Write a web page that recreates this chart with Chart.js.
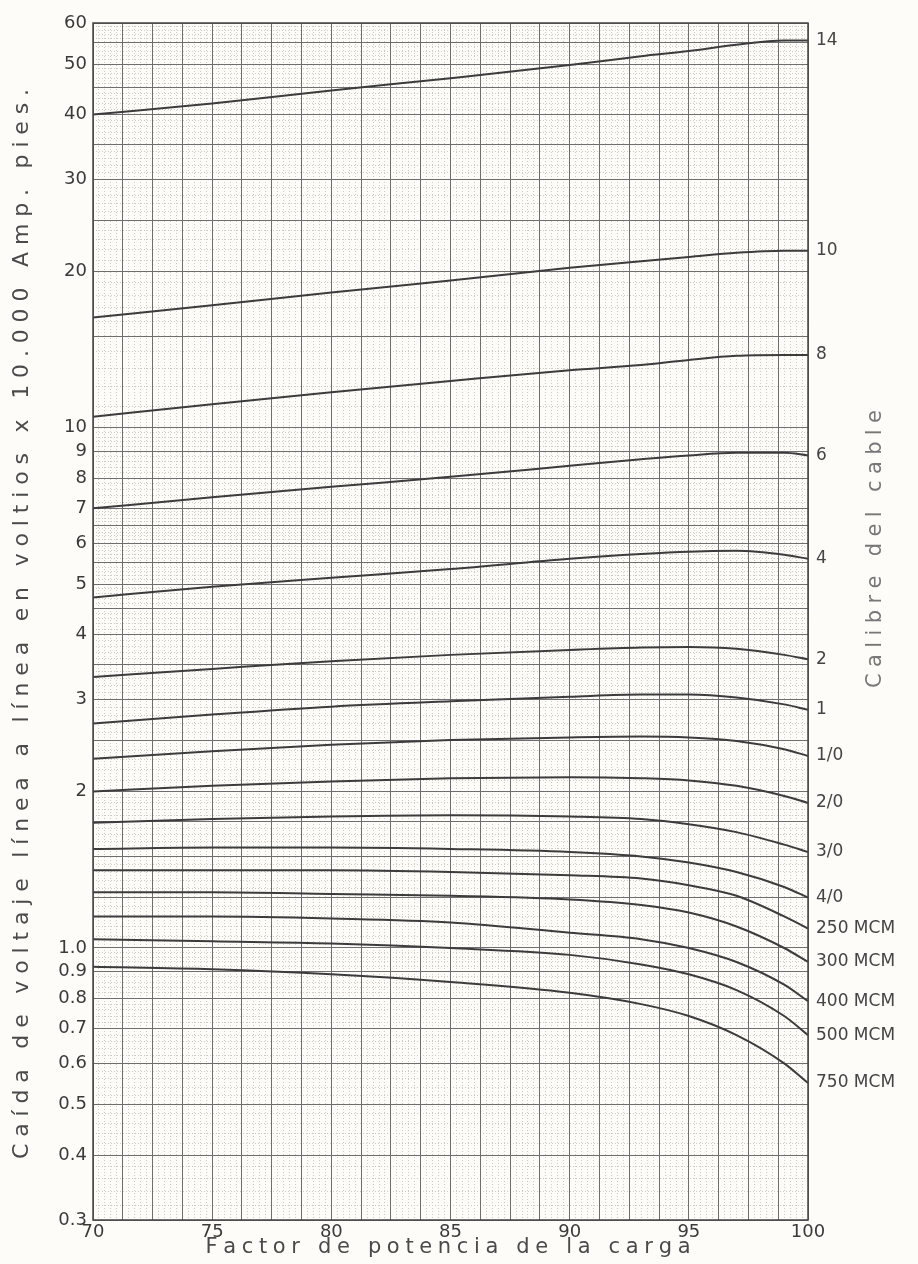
<!DOCTYPE html>
<html>
<head>
<meta charset="utf-8">
<script src="https://cdn.jsdelivr.net/npm/chart.js@4.4.1/dist/chart.umd.min.js"></script>
<style>
  html, body { margin: 0; padding: 0; background: #fdfcf9; }
  #wrap { width: 918px; height: 1264px; position: relative; }
</style>
</head>
<body>
<div id="wrap"><canvas id="chart"></canvas></div>
<script>
const factorPotencia = [70, 75, 80, 85, 90, 93, 95, 97, 99, 100];

// caída de voltaje per cable gauge, same order as factorPotencia
const cal14   = [40, 42, 44.5, 47, 49.8, 51.8, 53, 54.5, 55.5, 55.5];
const cal10   = [16.3, 17.2, 18.2, 19.2, 20.3, 20.9, 21.3, 21.7, 21.9, 21.9];
const cal8    = [10.5, 11.1, 11.7, 12.3, 12.9, 13.2, 13.5, 13.75, 13.8, 13.8];
const cal6    = [7.0, 7.35, 7.7, 8.05, 8.45, 8.7, 8.85, 8.95, 8.95, 8.85];
const cal4    = [4.72, 4.95, 5.15, 5.35, 5.6, 5.72, 5.78, 5.8, 5.7, 5.6];
const cal2    = [3.32, 3.44, 3.56, 3.66, 3.74, 3.78, 3.79, 3.76, 3.66, 3.59];
const cal1    = [2.7, 2.81, 2.91, 2.98, 3.04, 3.07, 3.07, 3.03, 2.94, 2.87];
const cal1_0  = [2.31, 2.39, 2.46, 2.51, 2.54, 2.55, 2.54, 2.5, 2.41, 2.34];
const cal2_0  = [2.0, 2.05, 2.09, 2.12, 2.13, 2.12, 2.1, 2.05, 1.96, 1.9];
const cal3_0  = [1.74, 1.77, 1.79, 1.8, 1.79, 1.77, 1.73, 1.67, 1.58, 1.53];
const cal4_0  = [1.55, 1.56, 1.56, 1.55, 1.53, 1.5, 1.46, 1.4, 1.31, 1.25];
const mcm250  = [1.41, 1.41, 1.41, 1.4, 1.38, 1.36, 1.32, 1.26, 1.15, 1.09];
const mcm300  = [1.28, 1.28, 1.27, 1.26, 1.24, 1.21, 1.17, 1.1, 1.0, 0.94];
const mcm400  = [1.15, 1.15, 1.14, 1.12, 1.07, 1.04, 1.0, 0.94, 0.85, 0.79];
const mcm500  = [1.04, 1.03, 1.02, 1.0, 0.97, 0.93, 0.89, 0.83, 0.74, 0.68];
const mcm750  = [0.92, 0.91, 0.89, 0.86, 0.82, 0.78, 0.74, 0.68, 0.6, 0.55];

const calibres = ['14', '10', '8', '6', '4', '2', '1', '1/0', '2/0', '3/0', '4/0',
                  '250 MCM', '300 MCM', '400 MCM', '500 MCM', '750 MCM'];
const series = [cal14, cal10, cal8, cal6, cal4, cal2, cal1, cal1_0, cal2_0, cal3_0, cal4_0,
                mcm250, mcm300, mcm400, mcm500, mcm750];

// tick labels
const xLabels = [70, 75, 80, 85, 90, 95, 100];
const yLabels = [0.3, 0.4, 0.5, 0.6, 0.7, 0.8, 0.9, 1, 2, 3, 4, 5, 6, 7, 8, 9, 10, 20, 30, 40, 50, 60];
// heavy lines of the graph paper
const yGrid = [0.3, 0.4, 0.5, 0.6, 0.7, 0.8, 0.9, 1, 1.25, 1.5, 1.75, 2, 2.5, 3, 3.5, 4, 4.5, 5, 5.5,
               6, 6.5, 7, 8, 9, 10, 15, 20, 25, 30, 35, 40, 45, 50, 55, 60];
const xStep = 1.25;

// fine dotted lines: split each heavy interval into 5
function minorValues(list) {
    const out = [];
    for (let i = 0; i < list.length - 1; i++) {
        for (let k = 0; k < 5; k++) out.push(list[i] + (list[i + 1] - list[i]) * k / 5);
    }
    out.push(list[list.length - 1]);
    return out;
}
const xGrid = [];
for (let v = 70; v <= 100.001; v += xStep) xGrid.push(+v.toFixed(2));

const ink = '#3c3c3c';
const font = 'DejaVu Sans';

// draws text with extra spacing so it fills a given length, centred on 0,0
function spacedText(ctx, text, length) {
    const chars = [...text];
    const plain = chars.reduce((s, c) => s + ctx.measureText(c).width, 0);
    const gap = (length - plain) / (chars.length - 1);
    let x = -length / 2;
    ctx.textAlign = 'left';
    ctx.textBaseline = 'middle';
    chars.forEach(c => {
        ctx.fillText(c, x, 0);
        x += ctx.measureText(c).width + gap;
    });
}

const paperPlugin = {
    id: 'paper',
    beforeDraw(chart) {
        const ctx = chart.ctx;
        ctx.save();
        ctx.fillStyle = '#fdfcf9';
        ctx.fillRect(0, 0, chart.width, chart.height);
        ctx.restore();
    },
    afterDraw(chart) {
        const { ctx, chartArea: a, scales } = chart;
        ctx.save();
        ctx.strokeStyle = '#444';
        ctx.lineWidth = 1.5;
        ctx.strokeRect(a.left, a.top, a.right - a.left, a.bottom - a.top);

        // gauge names at the end of each curve
        ctx.fillStyle = '#444';
        ctx.font = '17px "' + font + '"';
        ctx.textAlign = 'left';
        ctx.textBaseline = 'middle';
        chart.data.datasets.forEach(ds => {
            const last = ds.data[ds.data.length - 1];
            const y = scales.y.getPixelForValue(last.y);
            ctx.fillText(ds.label, a.right + 8, y);
        });

        // axis titles
        ctx.fillStyle = '#4a4a4a';
        ctx.font = '22px "' + font + '"';
        ctx.save();
        ctx.translate(22, 624);
        ctx.rotate(-Math.PI / 2);
        spacedText(ctx, 'Caída de voltaje línea a línea en voltios x 10.000 Amp. pies.', 1070);
        ctx.restore();

        ctx.font = '21px "' + font + '"';
        ctx.save();
        ctx.translate(448, 1248);
        spacedText(ctx, 'Factor de potencia de la carga', 485);
        ctx.restore();

        ctx.fillStyle = '#777';
        ctx.save();
        ctx.translate(876, 549);
        ctx.rotate(-Math.PI / 2);
        spacedText(ctx, 'Calibre del cable', 278);
        ctx.restore();
        ctx.restore();
    }
};

const datasets = series.map((vals, i) => ({
    label: calibres[i],
    data: factorPotencia.map((x, j) => ({ x: x, y: vals[j] })),
    borderColor: ink,
    borderWidth: 2,
    pointRadius: 0,
    fill: false,
    cubicInterpolationMode: 'monotone'
}));

const ctx = document.getElementById('chart').getContext('2d');
new Chart(ctx, {
    type: 'line',
    data: { datasets: datasets },
    options: {
        responsive: true,
        maintainAspectRatio: false,
        animation: false,
        layout: { padding: { top: 23, right: 110, left: 0, bottom: 0 } },
        plugins: { legend: { display: false }, tooltip: { enabled: false } },
        scales: {
            xMinor: {
                type: 'linear', position: 'bottom', min: 70, max: 100,
                afterBuildTicks: s => { s.ticks = minorValues(xGrid).map(v => ({ value: v })); },
                afterFit: s => { s.height = 0; },
                ticks: { display: false },
                grid: { color: '#cfcac4', lineWidth: 1, drawTicks: false },
                border: { display: false, dash: [1, 2] }
            },
            yMinor: {
                type: 'logarithmic', position: 'left', min: 0.3, max: 60,
                afterBuildTicks: s => { s.ticks = minorValues(yGrid).map(v => ({ value: v })); },
                afterFit: s => { s.width = 0; },
                ticks: { display: false },
                grid: { color: '#cfcac4', lineWidth: 1, drawTicks: false },
                border: { display: false, dash: [1, 2] }
            },
            x: {
                type: 'linear', position: 'bottom', min: 70, max: 100,
                afterBuildTicks: s => { s.ticks = xGrid.map(v => ({ value: v })); },
                afterFit: s => { s.height = 44; },
                ticks: {
                    autoSkip: false, maxRotation: 0, padding: 2, color: '#3a3a3a',
                    font: { family: font, size: 18 },
                    callback: v => xLabels.includes(v) ? String(v) : ''
                },
                grid: { color: '#6e6e6e', lineWidth: 1, drawTicks: false },
                border: { display: false }
            },
            y: {
                type: 'logarithmic', position: 'left', min: 0.3, max: 60,
                afterBuildTicks: s => { s.ticks = yGrid.map(v => ({ value: v })); },
                afterFit: s => { s.width = 93; },
                ticks: {
                    autoSkip: false, padding: 6, color: '#3a3a3a',
                    font: { family: font, size: 18 },
                    callback: v => {
                        if (!yLabels.includes(v)) return '';
                        if (v === 1) return '1.0';
                        return String(v);
                    }
                },
                grid: { color: '#6e6e6e', lineWidth: 1, drawTicks: false },
                border: { display: false }
            }
        }
    },
    plugins: [paperPlugin]
});
</script>
</body>
</html>
